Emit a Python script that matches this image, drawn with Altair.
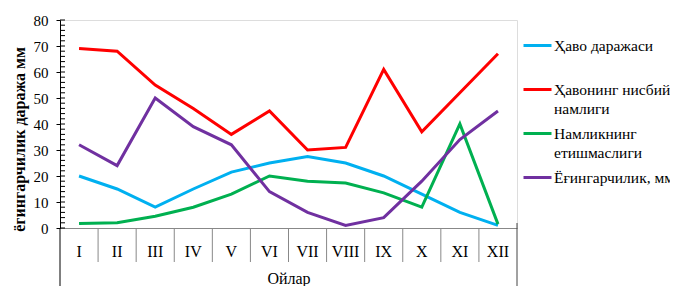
import altair as alt
import pandas as pd

months = ["I", "II", "III", "IV", "V", "VI", "VII", "VIII", "IX", "X", "XI", "XII"]
series = ["Ҳаво даражаси", "Ҳавонинг нисбий\nнамлиги", "Намликнинг\nетишмаслиги", "Ёғингарчилик, мм"]
colors = ["#00B0F0", "#FF0000", "#00B050", "#7030A0"]

air_temp = [20, 15, 8, 15, 21.5, 25, 27.5, 25, 20, 13, 6, 1]
rel_humidity = [69, 68, 55, 46, 36, 45, 30, 31, 61, 37, 52, 67]
humidity_deficit = [1.7, 2, 4.5, 8, 13, 20, 18, 17.3, 13.5, 8, 40, 1.5]
precipitation = [32, 24, 50, 39, 32, 14, 6, 1, 4, 18, 34, 45]

y_ticks = list(range(0, 81, 10))
y_minor = list(range(0, 81, 2))

W, H = 457, 208
FONT = "Liberation Serif"

rows = []
for name, vals in zip(series, [air_temp, rel_humidity, humidity_deficit, precipitation]):
    for m, v in zip(months, vals):
        rows.append({"month": m, "series": name, "value": v})
df = pd.DataFrame(rows)

xscale = alt.Scale(type="band", domain=months, paddingInner=0, paddingOuter=0)
yscale = alt.Scale(domain=[0, 80], nice=False)

x_axis = alt.Axis(title="Ойлар", ticks=False, tickSize=0, labelAngle=0,
                  labelFont=FONT, labelFontSize=16, labelColor="#000",
                  labelOverlap=False,
                  labelPadding=15, domainColor="#888", domainWidth=1,
                  titleFont=FONT, titleFontSize=16, titleFontWeight="normal",
                  titleColor="#000", titleY=50, titleBaseline="middle")
y_axis = alt.Axis(values=y_ticks, tickCount=9, title="ёгингарчилик даража мм", grid=False,
                  tickSize=4, tickColor="#000", domainColor="#000",
                  labelOverlap=False, labelBound=False,
                  labelFont=FONT, labelFontSize=15, labelColor="#000", labelPadding=8,
                  titleFont=FONT, titleFontSize=16, titleFontWeight="bold",
                  titleColor="#000", titleAngle=-90, titleX=-41, titleY=119,
                  titleAlign="center", titleBaseline="middle")

lines = alt.Chart(df).mark_line(strokeWidth=3).encode(
    x=alt.X("month:N", sort=months, scale=xscale, bandPosition=0.5, axis=x_axis),
    y=alt.Y("value:Q", scale=yscale, axis=y_axis),
    color=alt.Color("series:N", sort=series, scale=alt.Scale(domain=series, range=colors),
                    legend=alt.Legend(title=None, orient="none", legendX=462, legendY=10,
                                      symbolType="stroke", symbolSize=784, symbolStrokeWidth=3,
                                      labelFont=FONT, labelFontSize=15.5, labelColor="#000",
                                      labelOffset=1, padding=0,
                                      rowPadding=0, labelLimit=300,
                                      labelExpr=r"split(datum.label + (indexof(datum.label, '\n') < 0 ? '\n' : ''), '\n')")),
)

div_df = pd.DataFrame({"month": months[:-1]})
dividers = alt.Chart(div_df).mark_rule(color="#888", strokeWidth=1).encode(
    x=alt.X("month:N", sort=months, scale=xscale, bandPosition=1, axis=x_axis),
    y=alt.value(H),
    y2=alt.value(H + 34),
)

left_edge = alt.Chart(pd.DataFrame({"k": [0]})).mark_rule(color="#000", strokeWidth=1).encode(
    x=alt.value(0), y=alt.value(H), y2=alt.value(H + 75)
)
right_edge = alt.Chart(pd.DataFrame({"k": [0]})).mark_rule(color="#444", strokeWidth=1).encode(
    x=alt.value(W), y=alt.value(H - 5), y2=alt.value(H + 75)
)

minor = alt.Chart(pd.DataFrame({"value": y_minor})).mark_rule(color="#000", strokeWidth=1).encode(
    y=alt.Y("value:Q", scale=yscale, axis=y_axis),
    x=alt.value(0), x2=alt.value(5),
)

chart = alt.layer(lines, dividers, left_edge, right_edge, minor).properties(
    width=W, height=H,
    autosize="none",
    padding={"left": 52, "top": 12, "right": 153, "bottom": 58},
).configure_view(stroke=None).configure(
    font=FONT, style={"guide-label": {"lineHeight": 19.75}}
)

chart.save("out.html", embed_options={"renderer": "svg", "actions": False})
